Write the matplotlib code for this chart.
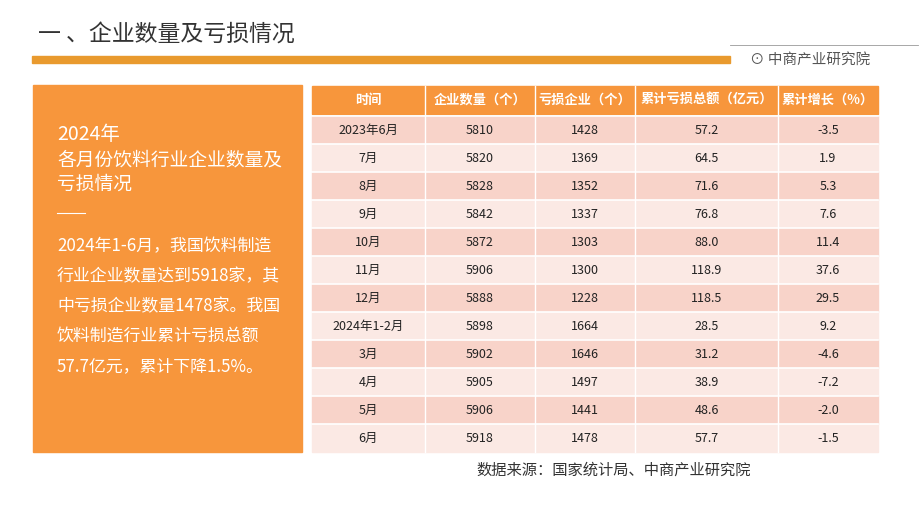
import matplotlib
matplotlib.use("Agg")
import matplotlib.pyplot as plt
from matplotlib.patches import Rectangle

plt.rcParams["font.family"] = "Noto Sans CJK SC"

headers = ["时间", "企业数量（个）", "亏损企业（个）", "累计亏损总额（亿元）", "累计增长（%）"]
periods = ["2023年6月", "7月", "8月", "9月", "10月", "11月", "12月",
           "2024年1-2月", "3月", "4月", "5月", "6月"]
firms = [5810, 5820, 5828, 5842, 5872, 5906, 5888, 5898, 5902, 5905, 5906, 5918]
loss_firms = [1428, 1369, 1352, 1337, 1303, 1300, 1228, 1664, 1646, 1497, 1441, 1478]
loss_total = [57.2, 64.5, 71.6, 76.8, 88.0, 118.9, 118.5, 28.5, 31.2, 38.9, 48.6, 57.7]
growth = [-3.5, 1.9, 5.3, 7.6, 11.4, 37.6, 29.5, 9.2, -4.6, -7.2, -2.0, -1.5]

fig = plt.figure(figsize=(9.2, 5.18), dpi=100)
ax = fig.add_axes([0, 0, 1, 1])
ax.set_xlim(0, 920)
ax.set_ylim(518, 0)
ax.axis("off")

orange = "#F7963C"
# title and rule
ax.text(38, 34, "一 、企业数量及亏损情况", fontsize=16.5, va="center", color="#333333")
ax.add_patch(Rectangle((32, 56), 698, 7, color="#E99A2E"))
ax.plot([730, 918], [45, 45], color="#999999", lw=0.6)
ax.text(750, 60, "⊙ 中商产业研究院", fontsize=10.5, va="center", color="#555555")

# left box
ax.add_patch(Rectangle((33, 85), 269, 367, color=orange))
ax.text(57, 135, "2024年", fontsize=14, color="white", va="center")
ax.text(57, 160, "各月份饮料行业企业数量及", fontsize=13.5, color="white", va="center")
ax.text(57, 184, "亏损情况", fontsize=13.5, color="white", va="center")
ax.plot([57, 85], [213, 213], color="white", lw=0.8)
body = ["2024年1-6月，我国饮料制造", "行业企业数量达到5918家，其",
        "中亏损企业数量1478家。我国", "饮料制造行业累计亏损总额", "57.7亿元，累计下降1.5%。"]
for i, line in enumerate(body):
    ax.text(57, 246 + i * 30, line, fontsize=12.2, color="white", va="center")

# table
cols = [312, 425, 535, 635, 778, 878]
ax.add_patch(Rectangle((312, 86), 566, 28, color=orange))
for j, h in enumerate(headers):
    ax.text((cols[j] + cols[j + 1]) / 2, 100, h, fontsize=9.5, color="white",
            ha="center", va="center", fontweight="bold")
for x in cols[1:-1]:
    ax.plot([x, x], [86, 452], color="white", lw=1)
row_h = 28
for i in range(len(periods)):
    y0 = 116 + i * row_h
    c = "#F8D3C9" if i % 2 == 0 else "#FBE9E4"
    ax.add_patch(Rectangle((312, y0), 566, row_h, color=c, zorder=0))
    vals = [periods[i], str(firms[i]), str(loss_firms[i]),
            f"{loss_total[i]:.1f}", f"{growth[i]:.1f}"]
    for j, v in enumerate(vals):
        ax.text((cols[j] + cols[j + 1]) / 2, y0 + row_h / 2, v, fontsize=9,
                color="#222222", ha="center", va="center")
    ax.plot([312, 878], [y0, y0], color="white", lw=1.2)

ax.text(476, 470, "数据来源：国家统计局、中商产业研究院", fontsize=11,
        va="center", color="#333333")

fig.savefig("out.png", dpi=100)
